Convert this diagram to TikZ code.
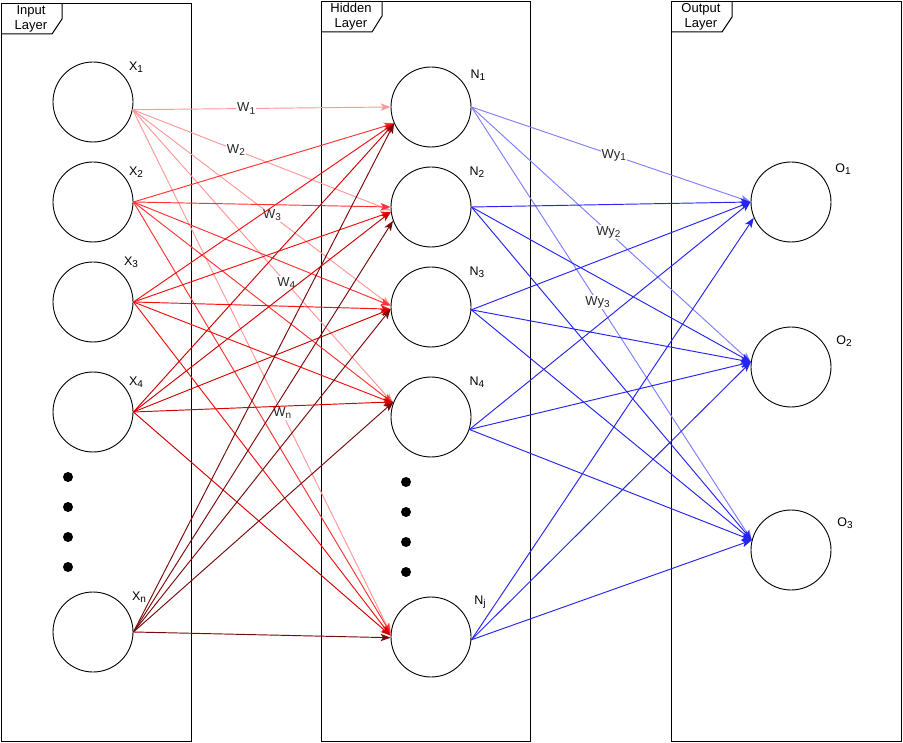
\documentclass[tikz,border=0pt]{standalone}
\usepackage{fontspec}
\setmainfont{Liberation Sans}
\usetikzlibrary{arrows.meta}
\definecolor{ca}{HTML}{FF9999}
\definecolor{cb}{HTML}{FF3333}
\definecolor{cc}{HTML}{F51010}
\definecolor{cd}{HTML}{D40000}
\definecolor{ce}{HTML}{7A0A0A}
\definecolor{ba}{HTML}{7F7FFF}
\definecolor{bb}{HTML}{2525F0}
\tikzset{
  neuron/.style={circle,draw=black,line width=0.9pt,minimum size=80pt,inner sep=0pt},
  layerbox/.style={draw=black,line width=1pt},
  lbl/.style={font=\fontsize{12.5}{14}\selectfont,inner sep=0pt},
  tabtxt/.style={font=\fontsize{13}{15}\selectfont,align=center,inner sep=0pt},
  wl/.style={font=\fontsize{13}{15}\selectfont,fill=white,inner sep=1pt,text=black!85},
  dotn/.style={circle,fill=black,minimum size=10pt,inner sep=0pt},
  conn/.style={line width=0.95pt,-{Stealth[length=10pt,width=7.5pt,inset=2.5pt]}},
}
\newcommand{\lsub}[1]{\raisebox{-0.3ex}{\fontsize{10}{11}\selectfont #1}}
\begin{document}
\begin{tikzpicture}[x=1pt,y=-1pt]
\useasboundingbox (0,0) rectangle (903,743);
\fill[white] (0,0) rectangle (903,743);
% layer boxes
\draw[layerbox] (1,4) rectangle (191,741);
\draw[layerbox] (321,1.5) rectangle (530,741);
\draw[layerbox] (671,2) rectangle (901,741);
% tabs
\draw[layerbox] (1,34) -- (52,34) -- (62,19) -- (62,4);
\draw[layerbox] (321,32) -- (372,32) -- (382,16) -- (382,1.5);
\draw[layerbox] (671,32) -- (722,32) -- (732,17) -- (732,2);
\node[tabtxt] (tin) at (31,19) {Input\\Layer};
\node[tabtxt] (thid) at (351,16.5) {Hidden\\Layer};
\node[tabtxt] (tout) at (701,17) {Output\\Layer};
% input neurons
\node[neuron] (x1) at (93,102) {};
\node[neuron] (x2) at (93,202) {};
\node[neuron] (x3) at (93,302) {};
\node[neuron] (x4) at (93,412) {};
\node[neuron] (xn) at (93,632) {};
\node[dotn] (dx1) at (68,477) {};
\node[dotn] (dx2) at (68,507) {};
\node[dotn] (dx3) at (68,537) {};
\node[dotn] (dx4) at (68,567) {};
% hidden neurons
\node[neuron] (n1) at (431,107) {};
\node[neuron] (n2) at (431,207) {};
\node[neuron] (n3) at (431,307) {};
\node[neuron] (n4) at (431,417) {};
\node[neuron] (nj) at (431,637) {};
\node[dotn] (dn1) at (406,482) {};
\node[dotn] (dn2) at (406,512) {};
\node[dotn] (dn3) at (406,542) {};
\node[dotn] (dn4) at (406,572) {};
% output neurons
\node[neuron] (o1) at (791,202) {};
\node[neuron] (o2) at (791,367) {};
\node[neuron] (o3) at (791,550) {};
% neuron labels
\node[lbl] (lx1) at (136,67) {X\lsub{1}};
\node[lbl] (lx2) at (136,172) {X\lsub{2}};
\node[lbl] (lx3) at (131,262) {X\lsub{3}};
\node[lbl] (lx4) at (136,382) {X\lsub{4}};
\node[lbl] (lxn) at (139,597) {X\lsub{n}};
\node[lbl] (ln1) at (478,75) {N\lsub{1}};
\node[lbl] (ln2) at (477,172) {N\lsub{2}};
\node[lbl] (ln3) at (477,272) {N\lsub{3}};
\node[lbl] (ln4) at (477,382) {N\lsub{4}};
\node[lbl] (lnj) at (480,602) {N\lsub{j}};
\node[lbl] (lo1) at (843,169) {O\lsub{1}};
\node[lbl] (lo2) at (844,341) {O\lsub{2}};
\node[lbl] (lo3) at (845,523) {O\lsub{3}};
% input -> hidden : from X1
\draw[conn,ca] (x1.-11) -- (n1.west) node[wl,pos=0.44] (w1) {W\lsub{1}};
\draw[conn,ca] (x1.-11) -- (n2.185) node[wl,pos=0.4] (w2) {W\lsub{2}};
\draw[conn,ca] (x1.-11) -- (n3.178) node[wl,pos=0.54] (w3) {W\lsub{3}};
\draw[conn,ca] (x1.-11) -- (n4.160) node[wl,pos=0.59] (w4) {W\lsub{4}};
\draw[conn,ca] (x1.-11) -- (nj.175) node[wl,pos=0.58] (wn) {W\lsub{n}};
% from X2
\draw[conn,cb] (x2.east) -- (n1.-156);
\draw[conn,cb] (x2.east) -- (n2.west);
\draw[conn,cb] (x2.east) -- (n3.178);
\draw[conn,cb] (x2.east) -- (n4.160);
\draw[conn,cb] (x2.east) -- (nj.175);
% from X3
\draw[conn,cc] (x3.east) -- (n1.-156);
\draw[conn,cc] (x3.east) -- (n2.187);
\draw[conn,cc] (x3.east) -- (n3.183);
\draw[conn,cc] (x3.east) -- (n4.160);
\draw[conn,cc] (x3.east) -- (nj.178);
% from X4
\draw[conn,cd] (x4.east) -- (n1.-156);
\draw[conn,cd] (x4.east) -- (n2.187);
\draw[conn,cd] (x4.east) -- (n3.183);
\draw[conn,cd] (x4.east) -- (n4.158);
\draw[conn,cd] (x4.east) -- (nj.178);
% from Xn
\draw[conn,ce] (xn.east) -- (n1.-156);
\draw[conn,ce] (xn.east) -- (n2.200);
\draw[conn,ce] (xn.east) -- (n3.183);
\draw[conn,ce] (xn.east) -- (n4.158);
\draw[conn,ce] (xn.east) -- (nj.181);
% hidden -> output
\draw[conn,ba] (n1.east) -- (o1.west) node[wl,pos=0.51] (wy1) {Wy\lsub{1}};
\draw[conn,ba] (n1.east) -- (o2.173) node[wl,pos=0.49] (wy2) {Wy\lsub{2}};
\draw[conn,ba] (n1.east) -- (o3.166) node[wl,pos=0.45] (wy3) {Wy\lsub{3}};
\draw[conn,bb] (n2.east) -- (o1.west);
\draw[conn,bb] (n2.east) -- (o2.173);
\draw[conn,bb] (n2.east) -- (o3.166);
\draw[conn,bb] (n3.-4) -- (o1.west);
\draw[conn,bb] (n3.-4) -- (o2.173);
\draw[conn,bb] (n3.-4) -- (o3.166);
\draw[conn,bb] (n4.-18) -- (o1.west);
\draw[conn,bb] (n4.-18) -- (o2.173);
\draw[conn,bb] (n4.-18) -- (o3.166);
\draw[conn,bb] (nj.-4) -- (o1.203);
\draw[conn,bb] (nj.-4) -- (o2.173);
\draw[conn,bb] (nj.-4) -- (o3.166);
\end{tikzpicture}
\end{document}
